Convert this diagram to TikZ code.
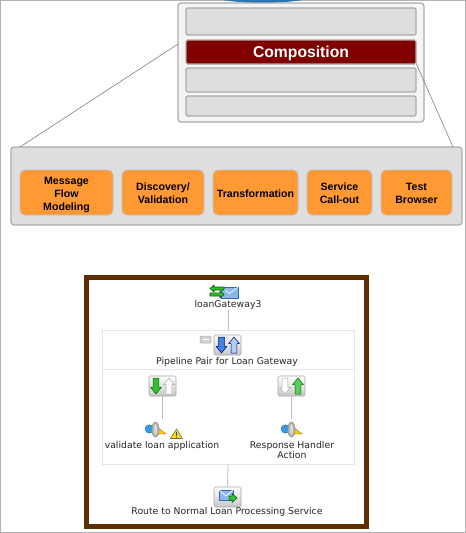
\documentclass[tikz,border=0pt]{standalone}
\usepackage{fontspec}
\setmainfont{Liberation Sans}
\newfontfamily\smallfont{DejaVu Sans}
\definecolor{rowfill}{HTML}{DEDEDE}
\definecolor{rowline}{HTML}{ABABAB}
\definecolor{maroonbar}{HTML}{800000}
\definecolor{orangebox}{HTML}{FF9933}
\definecolor{brownframe}{HTML}{5C2E00}
\definecolor{hairline}{HTML}{E6E6E6}
\definecolor{blueicon}{HTML}{3F86E0}
\definecolor{greenicon}{HTML}{35C030}
\tikzset{
  outerbox/.style={draw=rowline,line width=1.2pt,fill=white!96!black,rounded corners=3pt,inner sep=0pt},
  rowbox/.style={draw=rowline,line width=1.2pt,fill=rowfill,rounded corners=1.5pt,inner sep=0pt},
  titlebar/.style={rowbox,fill=maroonbar,text=white,text depth=0pt,font=\fontsize{15.7}{18}\selectfont\bfseries},
  panelbox/.style={rowbox,rounded corners=3pt},
  taskbox/.style={draw=black!25,line width=.7pt,fill=orangebox,rounded corners=5pt,inner sep=0pt,align=center,
    font=\fontsize{10.6}{13}\selectfont\bfseries},
  framebox/.style={draw=brownframe,line width=5pt,fill=white,inner sep=0pt},
  groupbox/.style={draw=hairline,line width=.7pt,fill=white,inner sep=0pt},
  caption/.style={inner sep=0pt,align=center,text=black!85,font=\fontsize{9.3}{9}\selectfont\smallfont},
  link/.style={draw=black!25,line width=.8pt},
  zoomline/.style={draw=black!50,line width=.6pt},
  iconbtn/.style={draw=black!35,line width=.6pt,rounded corners=1.5pt,top color=white,bottom color=black!22,inner sep=0pt,minimum width=27pt,minimum height=20pt},
}
% block arrow: centre x, tail y, tip y, fill, outline
\newcommand{\blockarrow}[5]{\filldraw[fill=#4,draw=#5,line width=.5pt,line join=round]
  (#1-2.8,#2) -- (#1+2.8,#2) -- (#1+2.8,{#3+(#2-#3)*.42}) -- (#1+5.5,{#3+(#2-#3)*.42}) -- (#1,#3) -- (#1-5.5,{#3+(#2-#3)*.42}) -- (#1-2.8,{#3+(#2-#3)*.42}) -- cycle;}
% envelope: left, top, width, height
\newcommand{\envelope}[4]{\filldraw[fill=blueicon!60,draw=blueicon!80!black,line width=.5pt] (#1,#2) rectangle (#1+#3,#2+#4);
  \draw[white,line width=.7pt] (#1,#2) -- (#1+#3/2,#2+#4*.6) -- (#1+#3,#2);}
% service action: left x, top y
\newcommand{\actionicon}[2]{
  \filldraw[fill=yellow!70!orange,draw=orange!70!black,line width=.4pt] (#1+12,#2+5) -- (#1+21,#2+12) -- (#1+12,#2+12) -- cycle;
  \filldraw[fill=blueicon!80!cyan,draw=blueicon!70!black,line width=.4pt] (#1+4.5,#2+7) ellipse [x radius=4.5,y radius=4.2];
  \filldraw[fill=black!30,draw=black!50,line width=.4pt] (#1+10.5,#2+7.5) ellipse [x radius=3.7,y radius=7.5];
  \fill[white!85!black] (#1+10.5,#2+7.5) ellipse [x radius=1.5,y radius=5.5];}
\begin{document}
\begin{tikzpicture}[x=1pt,y=-1pt]
\useasboundingbox (0,0) rectangle (466,533);
\fill[white] (0,0) rectangle (466,533);
\draw[black!30,line width=1pt] (.5,.5) rectangle (465.5,532.5);
\fill[cyan!60!blue!85!black] (222,0) .. controls (250,4) and (275,4) .. (303,0) -- cycle;

% connectors behind the boxes
\coordinate (zoomTL) at (178,44);
\coordinate (zoomBL) at (20,147);
\coordinate (zoomTR) at (416,63);
\coordinate (zoomBR) at (453,147);

\node[outerbox,minimum width=246pt,minimum height=119pt] (stack) at (301,62.5) {};
\node[rowbox,minimum width=230pt,minimum height=27pt] (row1) at (301,21.5) {};
\node[titlebar,minimum width=230pt,minimum height=24pt] (row2) at (301,52) {Composition};
\node[rowbox,minimum width=230pt,minimum height=24pt] (row3) at (301,80) {};
\node[rowbox,minimum width=230pt,minimum height=20pt] (row4) at (301,106) {};

\node[panelbox,minimum width=451pt,minimum height=78pt] (panel) at (236.5,186) {};
\node[taskbox,minimum width=93pt,minimum height=45pt] (t1) at (66.5,192.5) {\rule{0pt}{12pt}Message\\Flow\\Modeling};
\node[taskbox,minimum width=82pt,minimum height=45pt] (t2) at (163,192.5) {\rule{0pt}{9pt}Discovery/\\Validation};
\node[taskbox,minimum width=85pt,minimum height=45pt] (t3) at (255.5,192.5) {\rule{0pt}{11pt}Transformation};
\node[taskbox,minimum width=65pt,minimum height=45pt] (t4) at (339.5,192.5) {\rule{0pt}{9pt}Service\\Call-out};
\node[taskbox,minimum width=71pt,minimum height=45pt] (t5) at (416.5,192.5) {\rule{0pt}{9pt}Test\\Browser};
\draw[zoomline] (zoomTL) -- (zoomBL);
\draw[zoomline] (zoomTR) -- (zoomBR);

% flow picture
\node[framebox,minimum width=280pt,minimum height=249pt] (frame) at (226.5,402) {};
\node[groupbox,minimum width=252pt,minimum height=39pt] (pair) at (228,349.5) {};
\node[groupbox,minimum width=252pt,minimum height=95pt] (branches) at (228,416.5) {};

\node[caption] (gw) at (228,305) {loanGateway3};
\node[caption] (pairlabel) at (227,362) {Pipeline Pair for Loan Gateway};
\node[iconbtn] (pairbtn) at (227.5,345) {};
\node[iconbtn] (reqbtn) at (162.5,386) {};
\node[iconbtn] (respbtn) at (291.5,386) {};
\coordinate (reqact) at (162.5,419);
\coordinate (respact) at (291.5,419);
\node[caption] (reqlabel) at (162,446) {validate loan application};
\node[caption] (resplabel) at (292,450) {Response Handler\\Action};
\node[iconbtn] (routebtn) at (227.5,497) {};
\node[caption] (routelabel) at (227,512) {Route to Normal Loan Processing Service};

\draw[link] (gw.south) -- (pair.north);
\draw[link] (reqbtn.south) -- (reqact);
\draw[link] (respbtn.south) -- (respact);
\draw[link] (branches.south) -- (routebtn.north);

% gateway icon
\envelope{221}{287}{17}{11}
\filldraw[fill=greenicon,draw=green!35!black,line width=.6pt] (210,288.5) -- (214,285) -- (214,287) -- (224,287) -- (224,290) -- (214,290) -- (214,292) -- cycle;
\filldraw[fill=greenicon,draw=green!35!black,line width=.6pt] (224,294.5) -- (220,291) -- (220,293) -- (210,293) -- (210,296) -- (220,296) -- (220,298) -- cycle;

% pipeline pair icon
\filldraw[draw=black!30,fill=black!18,line width=.5pt,rounded corners=1pt] (200,336) rectangle (211,343);
\draw[white,line width=1pt] (202.5,339.5) -- (208.5,339.5);
\blockarrow{221.5}{337}{353}{blueicon}{blue!50!black}
\blockarrow{234}{353}{337}{blueicon!40}{blue!50!black}

% request and response icons
\blockarrow{156}{378}{394}{greenicon}{green!40!black}
\blockarrow{169}{394}{378}{white}{black!35}
\blockarrow{285}{378}{394}{white}{black!35}
\blockarrow{298}{394}{378}{greenicon!80}{green!40!black}

% actions
\actionicon{145}{422}
\actionicon{281}{422}
\filldraw[fill=yellow!80!orange,draw=black!55,line width=.6pt,line join=round] (176.5,429) -- (182.5,438.5) -- (170.5,438.5) -- cycle;
\draw[black!75,line width=1pt] (176.5,432) -- (176.5,435.5);
\fill[black!75] (176.5,437.2) circle (.6);

% route icon
\envelope{219}{490}{14}{10}
\filldraw[fill=greenicon,draw=green!35!black,line width=.5pt] (229,496) -- (232,496) -- (232,493.5) -- (237,498) -- (232,502.5) -- (232,500) -- (229,500) -- cycle;
\end{tikzpicture}
\end{document}
